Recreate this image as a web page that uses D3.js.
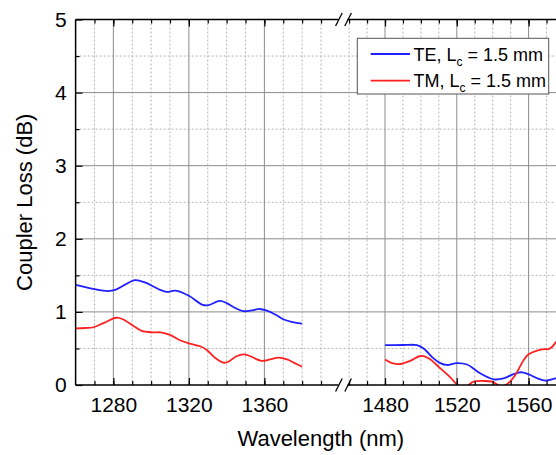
<!DOCTYPE html>
<html>
<head>
<meta charset="utf-8">
<script src="https://cdn.jsdelivr.net/npm/d3@7"></script>
<style>
  body { margin: 0; background: #fff; }
  svg { display: block; font-family: 'Liberation Sans', Arial, Helvetica, sans-serif; }
</style>
</head>
<body>
<div id="chart"></div>
<script>
// data
const teLeftWl   = [1260, 1265, 1270, 1277, 1281, 1286, 1291.5, 1297, 1304, 1308, 1313, 1320, 1327, 1330, 1336.5, 1340, 1344, 1349, 1353, 1357.5, 1361, 1366, 1370, 1375, 1380];
const teLeftLoss = [1.37, 1.34, 1.31, 1.285, 1.30, 1.37, 1.435, 1.40, 1.31, 1.275, 1.29, 1.22, 1.10, 1.09, 1.15, 1.12, 1.06, 1.01, 1.02, 1.04, 1.02, 0.96, 0.90, 0.86, 0.84];

const tmLeftWl   = [1260, 1265, 1269.5, 1275, 1281.5, 1285, 1290.5, 1295, 1301, 1305, 1310, 1315, 1320, 1326, 1329.5, 1334, 1338.5, 1341, 1345, 1349, 1352, 1358.5, 1363, 1367.5, 1372, 1376, 1380];
const tmLeftLoss = [0.775, 0.78, 0.79, 0.85, 0.92, 0.90, 0.81, 0.74, 0.72, 0.72, 0.685, 0.615, 0.57, 0.53, 0.48, 0.37, 0.305, 0.32, 0.39, 0.42, 0.40, 0.33, 0.35, 0.375, 0.35, 0.30, 0.25];

const teRightWl   = [1480, 1490, 1497.8, 1501.5, 1507, 1510.8, 1514.5, 1520, 1525.7, 1533, 1540.5, 1546, 1551.6, 1556.3, 1561, 1565, 1569.3, 1575.4, 1580];
const teRightLoss = [0.545, 0.547, 0.545, 0.50, 0.365, 0.30, 0.274, 0.30, 0.28, 0.16, 0.078, 0.09, 0.15, 0.174, 0.137, 0.09, 0.06, 0.09, 0.10];

const tmRightWl   = [1480, 1484, 1488.5, 1494, 1499.7, 1504.3, 1510.8, 1516.4, 1520.4, 1524, 1529.4, 1535, 1539.6, 1545, 1548.5, 1552.6, 1557.2, 1560, 1564.7, 1569, 1571, 1573, 1575.4, 1578];
const tmRightLoss = [0.35, 0.30, 0.287, 0.33, 0.397, 0.365, 0.228, 0.105, 0.0, -0.035, 0.045, 0.055, 0.045, -0.02, 0.02, 0.137, 0.34, 0.42, 0.47, 0.49, 0.49, 0.52, 0.59, 0.66];

const yTicks = [0, 1, 2, 3, 4, 5];
const leftMajor = [1280, 1320, 1360];
const rightMajor = [1480, 1520, 1560];
const leftMinor = d3.range(1270, 1400, 10);
const rightMinor = d3.range(1460, 1580, 10);
const seriesNames = ['TE, L', 'TM, L'];

// Constant
const width = 556;
const height = 455;
const teColor = '#1f1fff';
const tmColor = '#ff2020';
const plotTop = 19.5, plotBottom = 385;
const fontFamily = "'Liberation Sans', Arial, Helvetica, sans-serif";

const y = d3.scaleLinear().domain([0, 5]).range([plotBottom, plotTop]);
const xL = d3.scaleLinear().domain([1260, 1400]).range([75.6, 339.9]);
const xR = d3.scaleLinear().domain([1460, 1600]).range([349.1, 600.4]);

const svg = d3.select('#chart').append('svg')
    .attr('width', width)
    .attr('height', height);

// grid
const gridMinor = svg.append('g').attr('stroke', '#b4b4b4').attr('stroke-dasharray', '2,2').attr('stroke-width', 1);
const gridMajor = svg.append('g').attr('stroke', '#8c8c8c').attr('stroke-width', 1);

[[xL, leftMinor, leftMajor], [xR, rightMinor, rightMajor]].forEach(([x, minor, major]) => {
    gridMinor.selectAll(null)
        .data(minor.filter(v => !major.includes(v)))
        .enter().append('line')
        .attr('x1', d => x(d)).attr('x2', d => x(d))
        .attr('y1', plotTop).attr('y2', plotBottom);
    gridMajor.selectAll(null)
        .data(major)
        .enter().append('line')
        .attr('x1', d => x(d)).attr('x2', d => x(d))
        .attr('y1', plotTop).attr('y2', plotBottom);
});

gridMinor.selectAll(null)
    .data(d3.range(0.5, 5, 1))
    .enter().append('line')
    .attr('x1', xL(1260)).attr('x2', width)
    .attr('y1', d => y(d)).attr('y2', d => y(d));
gridMajor.selectAll(null)
    .data([1, 2, 3, 4])
    .enter().append('line')
    .attr('x1', xL(1260)).attr('x2', width)
    .attr('y1', d => y(d)).attr('y2', d => y(d));

// clip paths per segment
const defs = svg.append('defs');
defs.append('clipPath').attr('id', 'clipL').append('rect')
    .attr('x', xL(1260)).attr('y', plotTop).attr('width', xL(1400) - xL(1260)).attr('height', plotBottom - plotTop);
defs.append('clipPath').attr('id', 'clipR').append('rect')
    .attr('x', xR(1460)).attr('y', plotTop).attr('width', xR(1600) - xR(1460)).attr('height', plotBottom - plotTop);

// curves
const drawCurve = (x, wl, loss, color, clip) => {
    const line = d3.line()
        .x(d => x(d[0]))
        .y(d => y(d[1]))
        .curve(d3.curveCatmullRom.alpha(0.5));
    svg.append('path')
        .datum(wl.map((w, i) => [w, loss[i]]))
        .attr('clip-path', `url(#${clip})`)
        .attr('fill', 'none')
        .attr('stroke', color)
        .attr('stroke-width', 1.8)
        .attr('d', line);
};
drawCurve(xL, teLeftWl, teLeftLoss, teColor, 'clipL');
drawCurve(xL, tmLeftWl, tmLeftLoss, tmColor, 'clipL');
drawCurve(xR, teRightWl, teRightLoss, teColor, 'clipR');
drawCurve(xR, tmRightWl, tmRightLoss, tmColor, 'clipR');

// axes (ticks inward)
const styleAxis = g => {
    g.select('.domain').remove();
    g.selectAll('.tick line').attr('stroke', '#000').attr('stroke-width', 1.2);
    g.selectAll('.tick text')
        .style('font-family', fontFamily)
        .style('font-size', '21px')
        .attr('fill', '#000');
};

[[xL, leftMinor, leftMajor], [xR, rightMinor, rightMajor]].forEach(([x, minor, major]) => {
    svg.append('g')
        .attr('transform', `translate(0,${plotBottom})`)
        .call(d3.axisBottom(x).tickValues(minor).tickSize(-4).tickFormat(''))
        .call(styleAxis);
    svg.append('g')
        .attr('transform', `translate(0,${plotBottom})`)
        .call(d3.axisBottom(x).tickValues(major).tickSize(-7).tickPadding(12).tickFormat(d3.format('d')))
        .call(styleAxis);
    svg.append('g')
        .attr('transform', `translate(0,${plotTop})`)
        .call(d3.axisTop(x).tickValues(minor).tickSize(-4).tickFormat(''))
        .call(styleAxis);
    svg.append('g')
        .attr('transform', `translate(0,${plotTop})`)
        .call(d3.axisTop(x).tickValues(major).tickSize(-7).tickFormat(''))
        .call(styleAxis);
});

svg.append('g')
    .attr('transform', `translate(${xL(1260)},0)`)
    .call(d3.axisLeft(y).tickValues(d3.range(0.5, 5, 1)).tickSize(-4).tickFormat(''))
    .call(styleAxis);
svg.append('g')
    .attr('transform', `translate(${xL(1260)},0)`)
    .call(d3.axisLeft(y).tickValues(yTicks).tickSize(-7).tickPadding(9).tickFormat(d3.format('d')))
    .call(styleAxis);

// frame lines with the break
const frame = svg.append('g').attr('stroke', '#000').attr('stroke-width', 1.5).attr('fill', 'none');
frame.append('line').attr('x1', xL(1260)).attr('x2', xL(1260)).attr('y1', plotTop).attr('y2', plotBottom);
[plotTop, plotBottom].forEach(yy => {
    frame.append('line').attr('x1', xL(1260)).attr('x2', xL(1400) - 1.5).attr('y1', yy).attr('y2', yy);
    frame.append('line').attr('x1', xR(1460) - 1.5).attr('x2', width).attr('y1', yy).attr('y2', yy);
    const cx1 = xL(1400) - 1, cx2 = xR(1460) - 1;
    [cx1, cx2].forEach(cx => {
        frame.append('line')
            .attr('x1', cx - 3.3).attr('y1', yy + 6.5)
            .attr('x2', cx + 3.3).attr('y2', yy - 6.5)
            .attr('stroke-width', 1.3);
    });
});

// axis titles
svg.append('text')
    .attr('x', (xL(1260) + 556) / 2 + 5)
    .attr('y', 446)
    .attr('text-anchor', 'middle')
    .style('font-size', '22px')
    .attr('fill', '#000')
    .text('Wavelength (nm)');

svg.append('text')
    .attr('transform', `translate(32,${(plotTop + plotBottom) / 2}) rotate(-90)`)
    .attr('text-anchor', 'middle')
    .style('font-size', '22px')
    .attr('fill', '#000')
    .text('Coupler Loss (dB)');

// legend
const legend = svg.append('g');
legend.append('rect')
    .attr('x', 357.3).attr('y', 38.3)
    .attr('width', 191.4).attr('height', 55.7)
    .attr('fill', '#fff')
    .attr('stroke', '#555')
    .attr('stroke-width', 1);

[teColor, tmColor].forEach((c, i) => {
    const ly = 54 + i * 26.7;
    legend.append('line')
        .attr('x1', 370.7).attr('x2', 410)
        .attr('y1', ly).attr('y2', ly)
        .attr('stroke', c).attr('stroke-width', 1.8);
    const t = legend.append('text')
        .attr('x', 413.5).attr('y', ly + 6.5)
        .style('font-size', '18px')
        .attr('fill', '#000');
    t.append('tspan').text(seriesNames[i]);
    t.append('tspan').attr('dy', 5).style('font-size', '12px').text('c');
    t.append('tspan').attr('dy', -5).text(' = 1.5 mm');
});
</script>
</body>
</html>
